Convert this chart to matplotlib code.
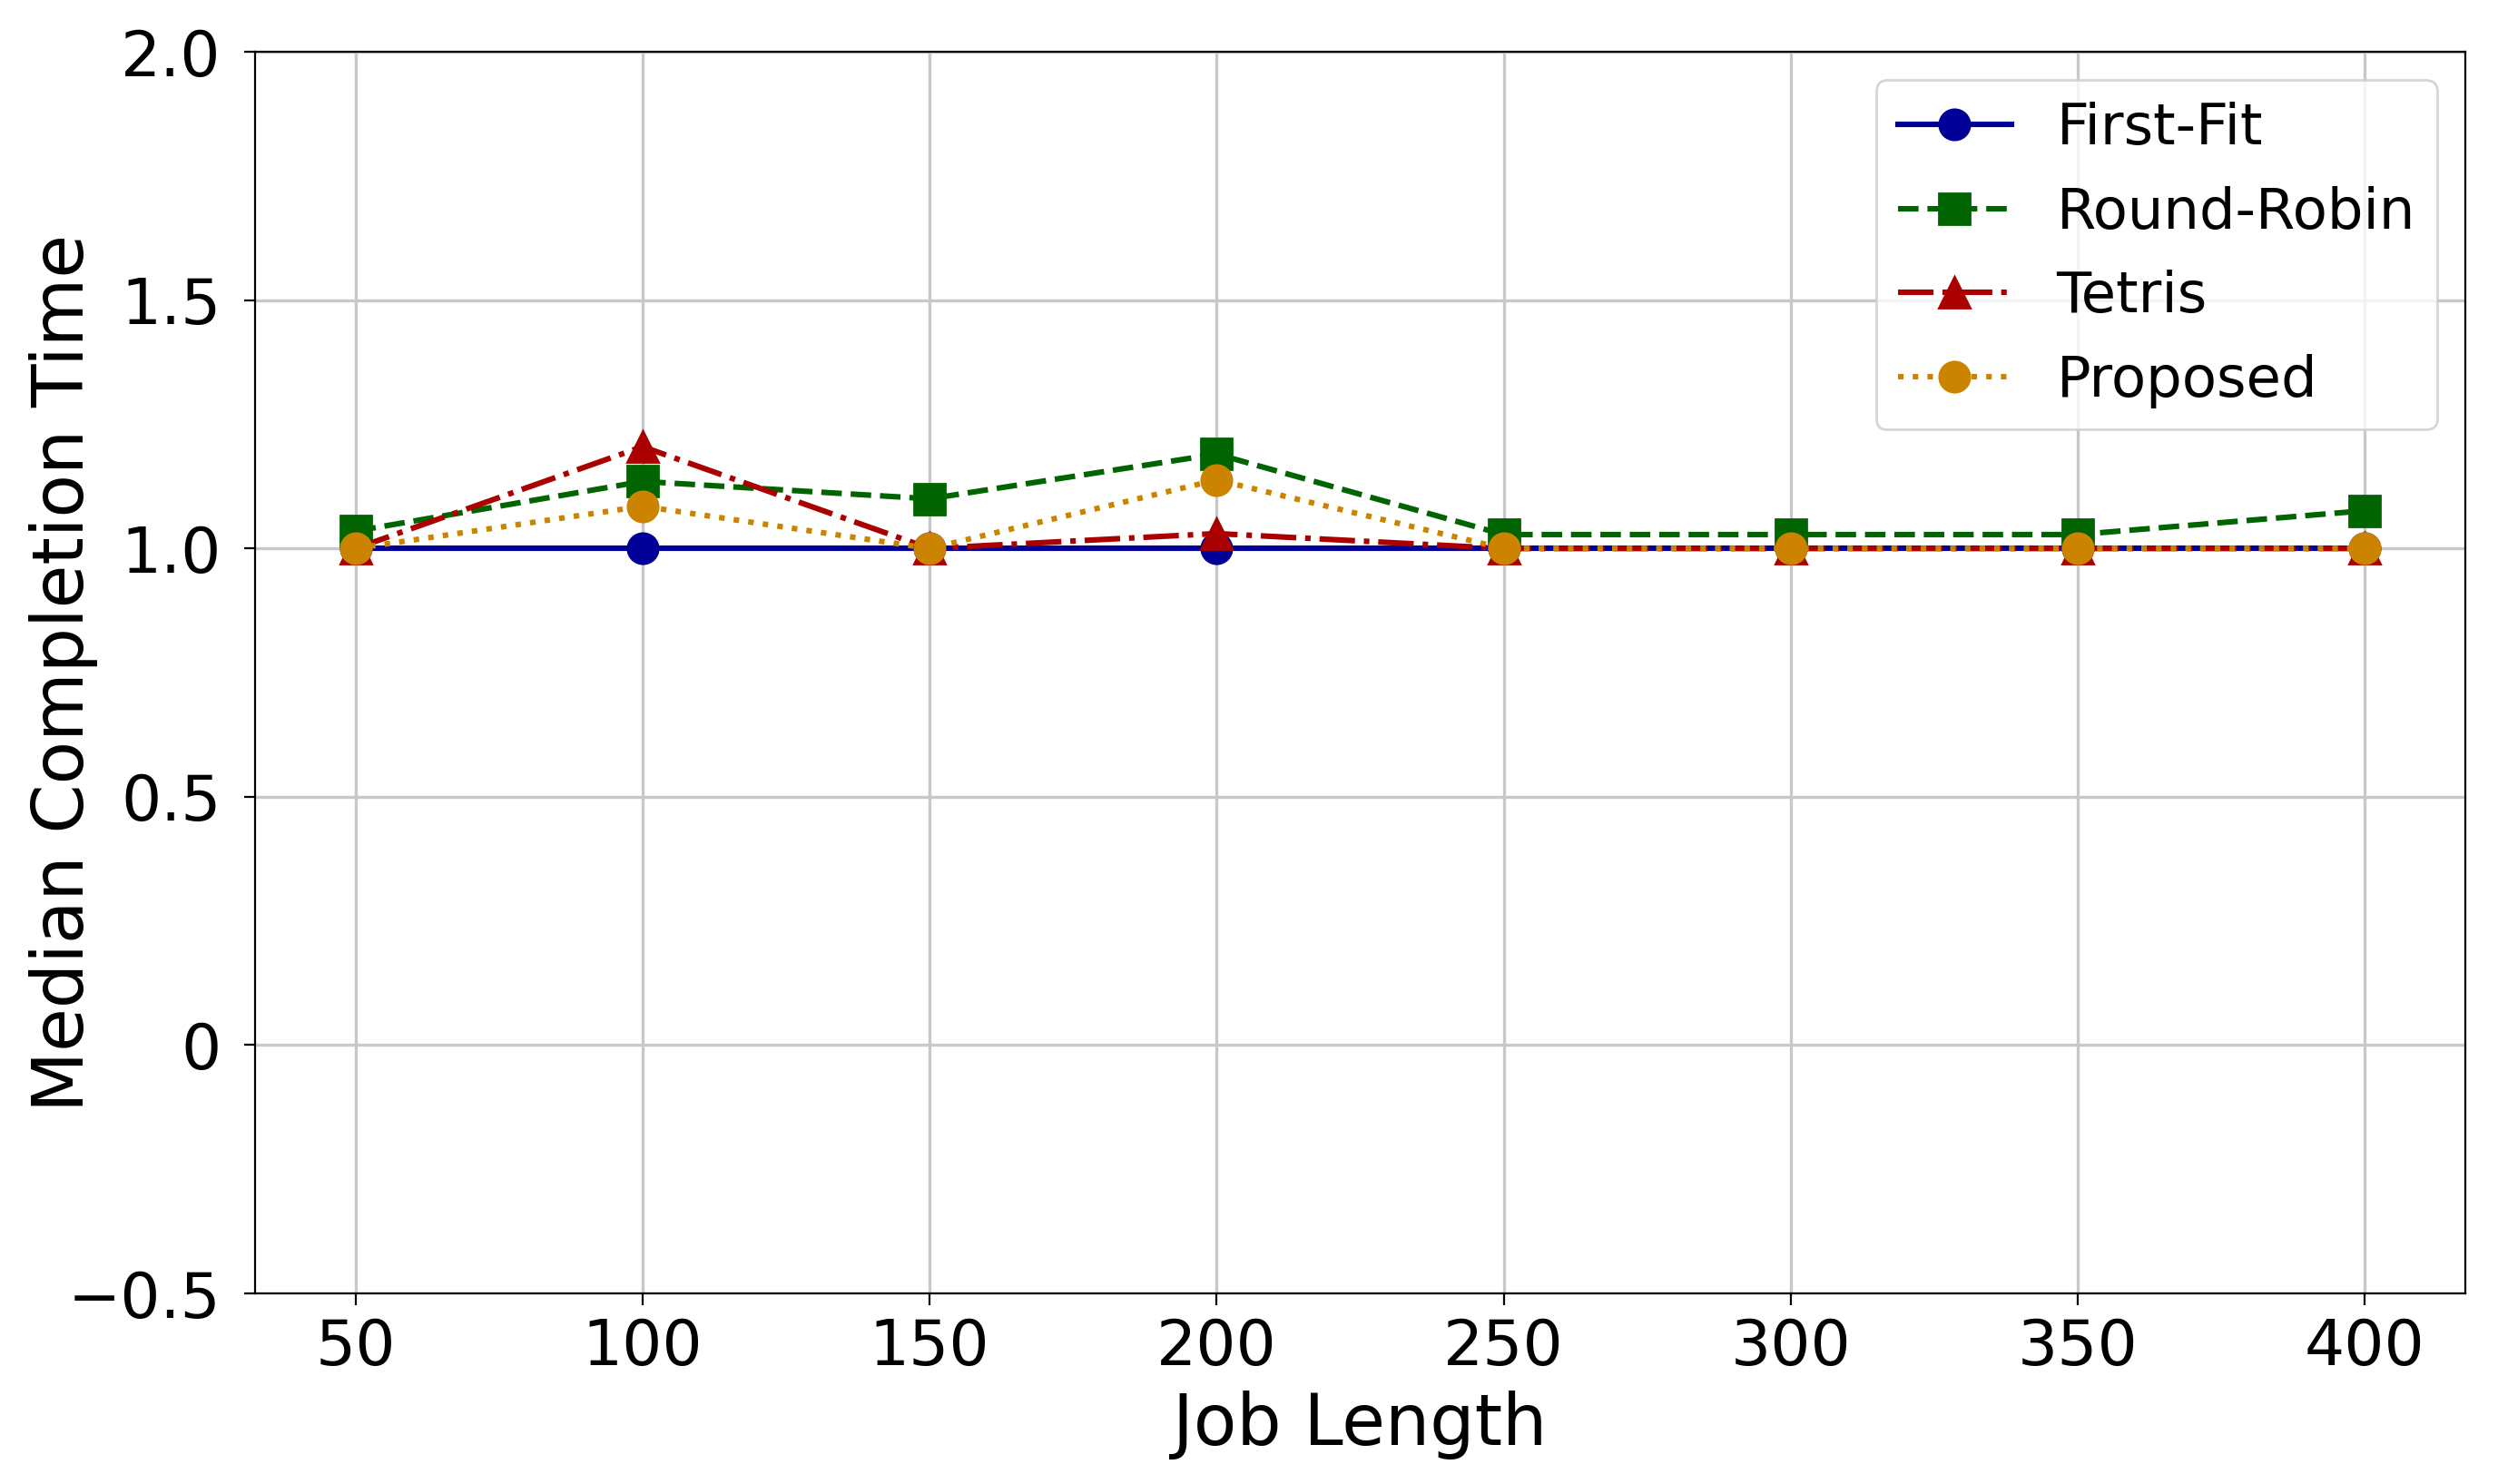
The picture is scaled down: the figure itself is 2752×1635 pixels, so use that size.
import numpy as np
import matplotlib
matplotlib.use('Agg')
import matplotlib.pyplot as plt

# data
job_length = [50, 100, 150, 200, 250, 300, 350, 400]
first_fit = [1.0, 1.0, 1.0, 1.0, 1.0, 1.0, 1.0, 1.0]
round_robin = [1.035, 1.135, 1.10, 1.19, 1.028, 1.028, 1.028, 1.076]
tetris = [1.0, 1.205, 1.0, 1.03, 1.0, 1.0, 1.0, 1.0]
proposed = [1.0, 1.085, 1.0, 1.138, 1.0, 1.0, 1.0, 1.0]

y_ticks = [-0.5, 0, 0.5, 1.0, 1.5, 2.0]
y_tick_labels = ['\u22120.5', '0', '0.5', '1.0', '1.5', '2.0']

fig = plt.figure(figsize=(13.76, 8.175), dpi=200)
ax = fig.add_axes([0.1021, 0.1284, 0.8848, 0.8367])

ax.plot(job_length, first_fit, '-', color='#000099', marker='o', markersize=12, linewidth=2.2, label='First-Fit')
ax.plot(job_length, round_robin, '--', color='#006400', marker='s', markersize=12, linewidth=2.2, label='Round-Robin')
ax.plot(job_length, tetris, '-.', color='#AA0000', marker='^', markersize=12, linewidth=2.2, label='Tetris')
ax.plot(job_length, proposed, ':', color='#CC8400', marker='o', markersize=12, linewidth=2.2, label='Proposed')

ax.set_ylim(-0.5, 2.0)
ax.set_yticks(y_ticks)
ax.set_yticklabels(y_tick_labels)
ax.set_xticks(job_length)
ax.tick_params(labelsize=25, length=4.5)
ax.tick_params(axis='y', pad=9)
ax.tick_params(axis='x', pad=5)
ax.grid(True, color='#c8c8c8', linewidth=1.2)

ax.set_xlabel('Job Length', fontsize=28, labelpad=5)
ax.set_ylabel('Median Completion Time', fontsize=28)
ax.yaxis.set_label_coords(-0.071, 0.5)

ax.legend(loc='upper right', fontsize=22.5, handlelength=2.0, labelspacing=0.52,
          borderpad=0.38, handletextpad=0.8)

fig.savefig('out.png', dpi=200)
